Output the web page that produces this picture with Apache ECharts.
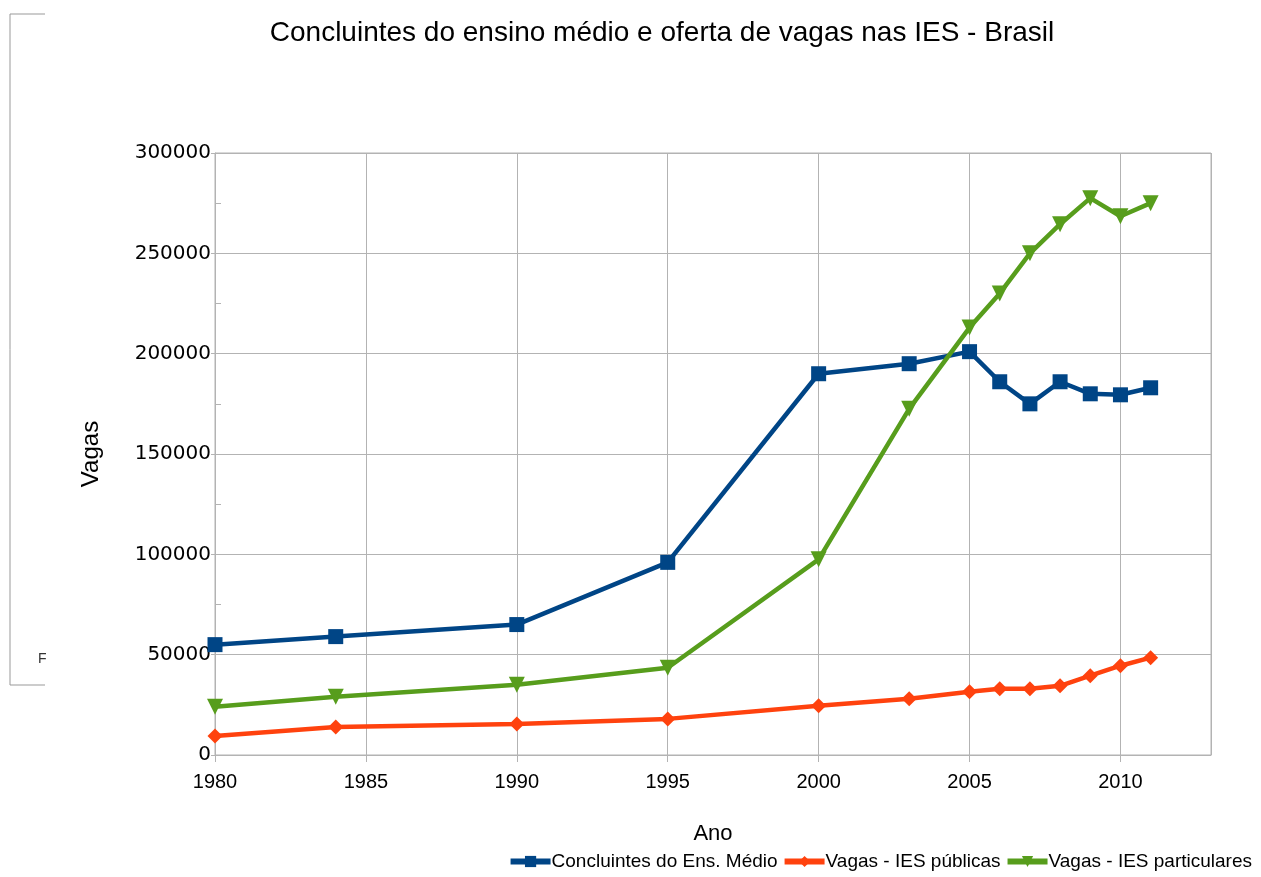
<!DOCTYPE html>
<html>
<head>
<meta charset="utf-8">
<script src="https://cdn.jsdelivr.net/npm/echarts@6/dist/echarts.min.js"></script>
<style>
  html, body { margin: 0; padding: 0; background: #fff; }
  #main { width: 1261px; height: 877px; }
</style>
</head>
<body>
<div id="main"></div>
<script>
// anos (eixo x numerico)
const anos = [1980, 1984, 1990, 1995, 2000, 2003, 2005, 2006, 2007, 2008, 2009, 2010, 2011]
// concluintes do ensino medio
const concluintes = [55000, 59000, 65000, 96000, 190000, 195000, 201000, 186000, 175000, 186000, 180000, 179500, 183000]
// vagas IES publicas
const vagasPublicas = [9500, 14000, 15500, 18000, 24500, 28000, 31500, 33000, 33000, 34500, 39500, 44500, 48500]
// vagas IES particulares
const vagasParticulares = [24000, 29000, 35000, 43500, 97500, 172500, 213000, 230000, 250000, 264500, 277500, 268500, 275000]

const nomes = ['Concluintes do Ens. Médio', 'Vagas - IES públicas', 'Vagas - IES particulares']
const cores = ['#004586', '#ff420e', '#579d1c']

const chart = echarts.init(document.getElementById('main'))

const pares = (ys) => anos.map((a, i) => [a, ys[i]])

const option = {
  animation: false,
  textStyle: { fontFamily: 'Liberation Sans', color: '#000' },
  title: {
    text: 'Concluintes do ensino médio e oferta de vagas nas IES - Brasil',
    left: 657,
    textAlign: 'center',
    top: 14,
    textStyle: { fontSize: 28, fontWeight: 'normal', color: '#000', fontFamily: 'Liberation Sans' }
  },
  grid: {
    left: 215,
    right: 50,
    top: 153,
    bottom: 122,
    show: true,
    borderColor: '#b3b3b3',
    borderWidth: 1
  },
  legend: {
    bottom: 1,
    right: 4,
    itemWidth: 40,
    itemHeight: 14,
    itemGap: 4,
    lineStyle: { width: 6 },
    textStyle: { fontSize: 19, color: '#000', padding: [0, 0, 0, -4] },
    data: nomes
  },
  xAxis: {
    type: 'value',
    min: 1980,
    max: 2013,
    interval: 5,
    name: 'Ano',
    nameLocation: 'middle',
    nameGap: 68,
    nameTextStyle: { fontSize: 22, color: '#000' },
    axisLine: { show: true, lineStyle: { color: '#b3b3b3' } },
    axisTick: { show: true, length: 7, lineStyle: { color: '#b3b3b3' } },
    splitLine: { show: true, lineStyle: { color: '#b3b3b3' } },
    axisLabel: {
      color: '#000',
      fontSize: 20,
      margin: 17,
      showMaxLabel: false,
      formatter: (v) => String(v)
    }
  },
  yAxis: {
    type: 'value',
    min: 0,
    max: 300000,
    interval: 50000,
    name: 'Vagas',
    nameLocation: 'middle',
    nameGap: 112,
    nameTextStyle: { fontSize: 24, color: '#000' },
    axisLine: { show: true, lineStyle: { color: '#b3b3b3' } },
    axisTick: { show: true, length: 4, lineStyle: { color: '#b3b3b3' } },
    minorTick: { show: true, splitNumber: 2, length: -6, lineStyle: { color: '#b3b3b3' } },
    splitLine: { show: true, lineStyle: { color: '#b3b3b3' } },
    axisLabel: { color: '#000', fontSize: 20, margin: 4, fontFamily: 'DejaVu Sans', formatter: (v) => String(v) }
  },
  series: [
    {
      name: nomes[0],
      type: 'line',
      data: pares(concluintes),
      symbol: 'rect',
      symbolSize: 15,
      lineStyle: { width: 4.5, color: cores[0] },
      itemStyle: { color: cores[0] }
    },
    {
      name: nomes[1],
      type: 'line',
      data: pares(vagasPublicas),
      symbol: 'diamond',
      symbolSize: 15,
      lineStyle: { width: 4.5, color: cores[1] },
      itemStyle: { color: cores[1] }
    },
    {
      name: nomes[2],
      type: 'line',
      data: pares(vagasParticulares),
      symbol: 'triangle',
      symbolRotate: 180,
      symbolSize: 16,
      lineStyle: { width: 4.5, color: cores[2] },
      itemStyle: { color: cores[2] }
    }
  ],
  graphic: [
    {
      type: 'polyline',
      z: -10,
      shape: { points: [[45, 14], [10, 14], [10, 685], [45, 685]] },
      style: { stroke: '#999', lineWidth: 1, fill: null }
    },
    {
      type: 'text',
      left: 38,
      top: 652,
      style: { text: 'F', fontSize: 14, fill: '#333', fontFamily: 'Liberation Sans' }
    }
  ]
}

chart.setOption(option)
window.addEventListener('resize', () => chart.resize())
</script>
</body>
</html>
